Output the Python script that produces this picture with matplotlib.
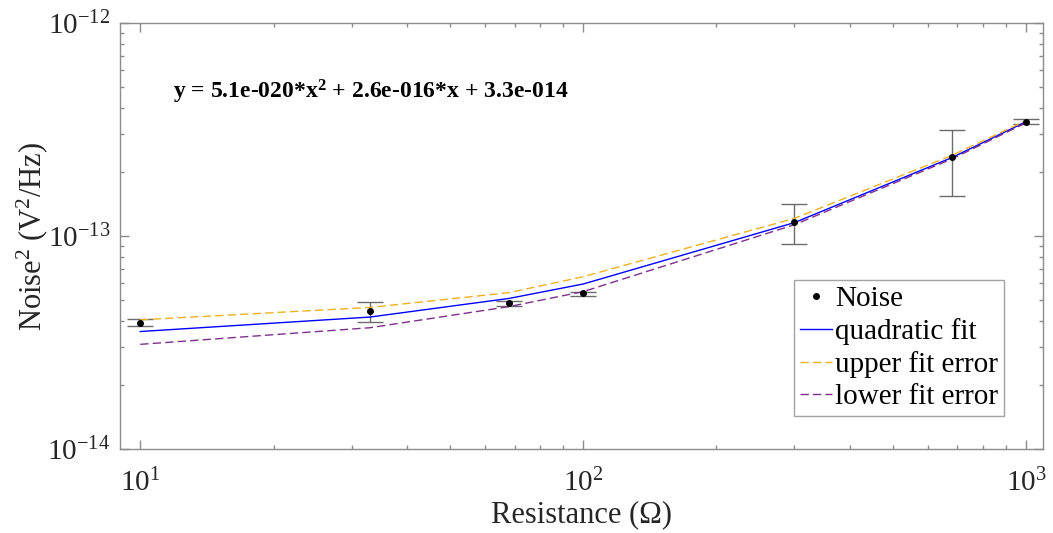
import matplotlib
matplotlib.use("Agg")
import matplotlib.pyplot as plt
import numpy as np
from matplotlib.ticker import FixedLocator, LogFormatterSciNotation, NullFormatter

plt.rcParams['font.family'] = ['Liberation Serif', 'DejaVu Serif']
plt.rcParams['mathtext.fontset'] = 'custom'
plt.rcParams['mathtext.rm'] = 'Liberation Serif'
plt.rcParams['mathtext.it'] = 'Liberation Serif:italic'
plt.rcParams['mathtext.bf'] = 'Liberation Serif:bold'

# Measured noise (V^2/Hz) against resistance (Ohm)
resistance = [10, 33, 68, 100, 300, 680, 1000]
noise = [3.89e-14, 4.43e-14, 4.83e-14, 5.38e-14, 1.167e-13, 2.34e-13, 3.44e-13]
noise_hi = [4.06e-14, 4.90e-14, 4.97e-14, 5.48e-14, 1.41e-13, 3.13e-13, 3.53e-13]
noise_lo = [3.77e-14, 3.94e-14, 4.67e-14, 5.25e-14, 9.2e-14, 1.54e-13, 3.37e-13]

# Quadratic fit coefficients and the fit error envelope
fit_coeffs = [5.1e-20, 2.6e-16, 3.3e-14]
upper_fit = [4.04e-14, 4.62e-14, 5.42e-14, 6.44e-14, 1.21e-13, 2.39e-13, 3.48e-13]
lower_fit = [3.10e-14, 3.71e-14, 4.66e-14, 5.48e-14, 1.13e-13, 2.30e-13, 3.40e-13]

fit_label = "y = 5.1e-020*x$^\\mathbf{2}$ + 2.6e-016*x + 3.3e-014"

# Axis ticks
x_major = [10, 100, 1000]
y_major = [1e-14, 1e-13, 1e-12]

x = np.array(resistance)
y = np.array(noise)
quad_fit = np.polyval(fit_coeffs, x)
yerr = [y - np.array(noise_lo), np.array(noise_hi) - y]

fig = plt.figure(figsize=(10.53, 5.33), dpi=100)
ax = fig.add_axes([120 / 1053, 1 - 449 / 533, 923 / 1053, 426 / 533])

ax.errorbar(x, y, yerr=yerr, fmt='none', ecolor='#6b6b6b', elinewidth=1.0,
            capsize=9.4, capthick=1.0, zorder=2)
ax.plot(x, y, 'o', color='black', markersize=4, label='Noise', zorder=4)
ax.plot(x, quad_fit, '-', color='#0000ff', lw=1.0, label='quadratic fit', zorder=3)
ax.plot(x, upper_fit, '--', color='#EDB120', lw=1.0, dashes=(6, 3),
        label='upper fit error', zorder=3)
ax.plot(x, lower_fit, '--', color='#7E2F8E', lw=1.0, dashes=(6, 3),
        label='lower fit error', zorder=3)

ax.set_xscale('log')
ax.set_yscale('log')
ax.set_xlim(9, 1092)
ax.set_ylim(1e-14, 1e-12)

x_minor = [m * d for d in x_major[:-1] for m in range(2, 10)]
y_minor = [m * d for d in y_major[:-1] for m in range(2, 10)]
ax.xaxis.set_major_locator(FixedLocator(x_major))
ax.yaxis.set_major_locator(FixedLocator(y_major))
ax.xaxis.set_minor_locator(FixedLocator(x_minor))
ax.yaxis.set_minor_locator(FixedLocator(y_minor))
ax.xaxis.set_major_formatter(LogFormatterSciNotation())
ax.yaxis.set_major_formatter(LogFormatterSciNotation())
ax.xaxis.set_minor_formatter(NullFormatter())
ax.yaxis.set_minor_formatter(NullFormatter())

spine_color = '#8c8c8c'
for s in ax.spines.values():
    s.set_color(spine_color)
    s.set_linewidth(1.0)
ax.tick_params(which='both', direction='in', top=True, right=True,
               color=spine_color, labelcolor='#262626', labelsize=21)
ax.tick_params(which='major', length=6.5, width=1.0)
ax.tick_params(which='minor', length=3.2, width=1.0)
ax.tick_params(axis='x', which='major', pad=14)
ax.tick_params(axis='y', which='major', pad=7)

ax.set_xlabel('Resistance (Ω)', fontsize=22, color='#262626', labelpad=2)
ax.set_ylabel('Noise$^\\mathregular{2}$ (V$^\\mathregular{2}$/Hz)', fontsize=22,
              color='#262626', labelpad=-2)

ax.text(0.057, 0.823, fit_label, transform=ax.transAxes, fontsize=17,
        fontweight='bold', ha='left', va='baseline', color='black')

leg = ax.legend(loc='lower right', bbox_to_anchor=(0.9577, 0.0775),
                borderaxespad=0, fontsize=21, frameon=True, fancybox=False,
                handlelength=1.1, handletextpad=0.1, labelspacing=0.2,
                borderpad=0.2, markerscale=1.0)
leg.get_frame().set_edgecolor(spine_color)
leg.get_frame().set_linewidth(1.0)

fig.savefig('out.png', dpi=100)
